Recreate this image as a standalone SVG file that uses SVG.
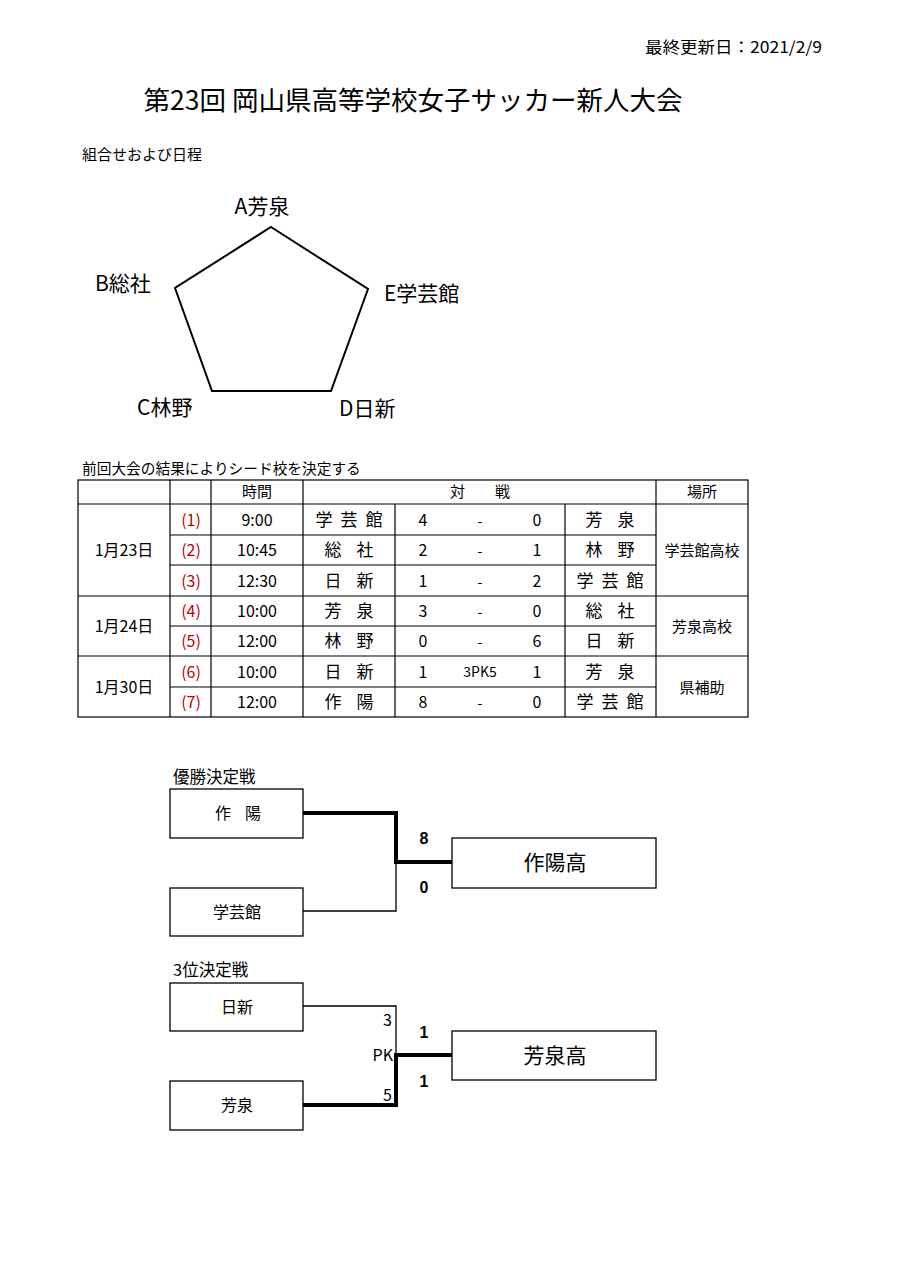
<svg xmlns="http://www.w3.org/2000/svg" width="900" height="1273" viewBox="0 0 900 1273">
<style>
text{font-family:"Noto Sans CJK JP","Noto Sans",sans-serif;fill:#000}
.t14{font-size:14px}
.c{text-anchor:middle}
.r{text-anchor:end}
.red{fill:#c00000}
.lab{font-size:21px}
.box{fill:#fff;stroke:#000;stroke-width:1.3}
.thin{fill:none;stroke:#000;stroke-width:1.3}
.thick{fill:none;stroke:#000;stroke-width:4}
.grid{stroke:#000;stroke-width:1.2;fill:none}
.b{font-weight:bold;font-size:16px;font-family:"Liberation Sans",sans-serif}
</style>
<rect width="900" height="1273" fill="#fff"/>
<text x="822" y="53" class="r" font-size="16" textLength="177" lengthAdjust="spacingAndGlyphs">最終更新日：2021/2/9</text>
<text x="413" y="110" class="c" font-size="26.5">第23回 岡山県高等学校女子サッカー新人大会</text>
<text x="82" y="160" font-size="15">組合せおよび日程</text>

<g id="pentagon">
<polygon points="271,227 368,289 331,391 212,391 175,288" fill="none" stroke="#000" stroke-width="2"/>
<text x="262" y="214" class="c lab">A芳泉</text>
<text x="95" y="291" class="lab">B総社</text>
<text x="384" y="301" class="lab">E学芸館</text>
<text x="137" y="415" class="lab">C林野</text>
<text x="339" y="416" class="lab">D日新</text>
</g>

<text x="82" y="474" font-size="14.7">前回大会の結果によりシード校を決定する</text>

<g id="table">
<rect x="78" y="480" width="670" height="237" class="grid"/>
<line x1="78" y1="504" x2="748" y2="504" class="grid"/>
<line x1="170" y1="535" x2="656" y2="535" class="grid"/>
<line x1="170" y1="565" x2="656" y2="565" class="grid"/>
<line x1="78" y1="596" x2="748" y2="596" class="grid"/>
<line x1="170" y1="626" x2="656" y2="626" class="grid"/>
<line x1="78" y1="656" x2="748" y2="656" class="grid"/>
<line x1="170" y1="687" x2="656" y2="687" class="grid"/>
<line x1="170" y1="480" x2="170" y2="717" class="grid"/>
<line x1="211" y1="480" x2="211" y2="717" class="grid"/>
<line x1="303" y1="480" x2="303" y2="717" class="grid"/>
<line x1="395" y1="504" x2="395" y2="717" class="grid"/>
<line x1="565" y1="504" x2="565" y2="717" class="grid"/>
<line x1="656" y1="480" x2="656" y2="717" class="grid"/>

<g font-size="15">
<text x="257" y="497" class="c">時間</text>
<text x="480" y="497" class="c">対　　戦</text>
<text x="702" y="497" class="c">場所</text>
<text x="702" y="556" class="c">学芸館高校</text>
<text x="702" y="632" class="c">芳泉高校</text>
<text x="702" y="693" class="c">県補助</text>
</g>
<g font-size="16">
<text x="124" y="556" class="c">1月23日</text>
<text x="124" y="632" class="c">1月24日</text>
<text x="124" y="693" class="c">1月30日</text>

<text x="191" y="526" class="c red">(1)</text>
<text x="191" y="556" class="c red">(2)</text>
<text x="191" y="587" class="c red">(3)</text>
<text x="191" y="617" class="c red">(4)</text>
<text x="191" y="647" class="c red">(5)</text>
<text x="191" y="678" class="c red">(6)</text>
<text x="191" y="708" class="c red">(7)</text>

<text x="257" y="526" class="c">9:00</text>
<text x="257" y="556" class="c">10:45</text>
<text x="257" y="587" class="c">12:30</text>
<text x="257" y="617" class="c">10:00</text>
<text x="257" y="647" class="c">12:00</text>
<text x="257" y="678" class="c">10:00</text>
<text x="257" y="708" class="c">12:00</text>
</g>
<g font-size="17">
<text x="324 349 374" y="526" class="c">学芸館</text>
<text x="333 365" y="556" class="c">総社</text>
<text x="333 365" y="587" class="c">日新</text>
<text x="333 365" y="617" class="c">芳泉</text>
<text x="333 365" y="647" class="c">林野</text>
<text x="333 365" y="678" class="c">日新</text>
<text x="333 365" y="708" class="c">作陽</text>

<text x="585 610 635" y="587" class="c">学芸館</text>
<text x="585 610 635" y="708" class="c">学芸館</text>
<text x="594 626" y="526" class="c">芳泉</text>
<text x="594 626" y="556" class="c">林野</text>
<text x="594 626" y="617" class="c">総社</text>
<text x="594 626" y="647" class="c">日新</text>
<text x="594 626" y="678" class="c">芳泉</text>
</g>
<g font-size="16">
<text x="423" y="526" class="c">4</text>
<text x="423" y="556" class="c">2</text>
<text x="423" y="587" class="c">1</text>
<text x="423" y="617" class="c">3</text>
<text x="423" y="647" class="c">0</text>
<text x="423" y="678" class="c">1</text>
<text x="423" y="708" class="c">8</text>

<text x="537" y="526" class="c">0</text>
<text x="537" y="556" class="c">1</text>
<text x="537" y="587" class="c">2</text>
<text x="537" y="617" class="c">0</text>
<text x="537" y="647" class="c">6</text>
<text x="537" y="678" class="c">1</text>
<text x="537" y="708" class="c">0</text>
</g>
<g class="t14">
<text x="480" y="526" class="c">-</text>
<text x="480" y="556" class="c">-</text>
<text x="480" y="587" class="c">-</text>
<text x="480" y="617" class="c">-</text>
<text x="480" y="647" class="c">-</text>
<text x="480" y="677" class="c">3PK5</text>
<text x="480" y="708" class="c">-</text>
</g>
</g>

<text x="173" y="783" font-size="16.5">優勝決定戦</text>
<text x="173" y="976" font-size="16.5">3位決定戦</text>

<g id="connectors">
<polyline points="303,911 396,911 396,862" class="thin"/>
<polyline points="303,813 396,813 396,862 452,862" class="thick"/>
<polyline points="303,1006 396,1006 396,1055" class="thin"/>
<polyline points="303,1105 396,1105 396,1055 452,1055" class="thick"/>
</g>

<g id="final-a">
<rect x="170" y="789" width="133" height="49" class="box"/>
<text x="223 253" y="819" class="c" font-size="16">作陽</text>
</g>
<g id="final-b">
<rect x="170" y="888" width="133" height="48" class="box"/>
<text x="237" y="918" class="c" font-size="16">学芸館</text>
</g>
<g id="final-w">
<rect x="452" y="838" width="204" height="50" class="box"/>
<text x="555" y="870" class="c" font-size="21">作陽高</text>
</g>
<text x="424" y="844" class="c b">8</text>
<text x="424" y="893" class="c b">0</text>

<g id="third-a">
<rect x="170" y="983" width="133" height="48" class="box"/>
<text x="237" y="1013" class="c" font-size="16">日新</text>
</g>
<g id="third-b">
<rect x="170" y="1081" width="133" height="49" class="box"/>
<text x="237" y="1111" class="c" font-size="16">芳泉</text>
</g>
<g id="third-w">
<rect x="452" y="1031" width="204" height="49" class="box"/>
<text x="555" y="1063" class="c" font-size="21">芳泉高</text>
</g>
<text x="392" y="1026" class="r" font-size="16">3</text>
<text x="393" y="1061" class="r" font-size="16">PK</text>
<text x="392" y="1101" class="r" font-size="16">5</text>
<text x="424" y="1038" class="c b">1</text>
<text x="424" y="1087" class="c b">1</text>
</svg>
